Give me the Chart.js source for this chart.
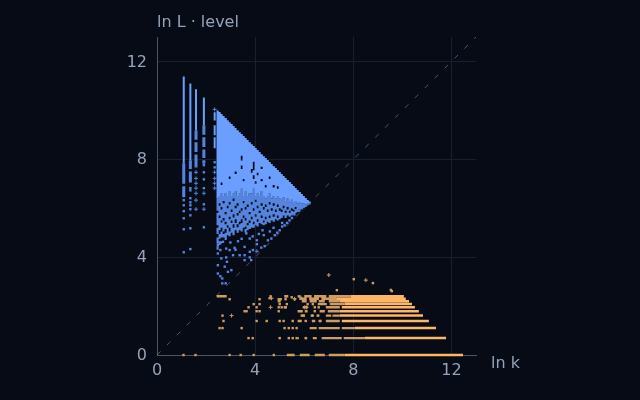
<!DOCTYPE html>
<html>
<head>
<meta charset="utf-8">
<style>html,body{margin:0;padding:0;background:#060b16}canvas{display:block}</style>
<script src="https://cdn.jsdelivr.net/npm/chart.js@4"></script>
</head>
<body>
<canvas id="c" width="640" height="400"></canvas>
<script>
const yLabel = 'ln L · level';
const xLabel = 'ln k';
const tickValues = [0, 4, 8, 12];
const diagonal = [[0, 0], [13, 13]];

// blue: vertical runs, one x per column
const coreX = [2.47,2.55,2.63,2.71,2.80,2.88,2.96,3.04,3.12,3.20,3.29,3.37,3.45,3.53,3.61,3.69,3.78,3.86,3.94,4.02,4.10,4.18,4.27,4.35,4.43,4.51,4.59,4.67,4.76,4.84,4.92,5.00,5.08,5.16,5.24,5.33,5.41,5.49,5.57,5.65,5.73,5.82,5.90,5.98,6.06,6.14,6.22];
const coreTop = [10.0,9.93,9.85,9.77,9.69,9.6,9.52,9.44,9.36,9.28,9.19,9.11,9.03,8.95,8.87,8.79,8.7,8.62,8.54,8.46,8.38,8.3,8.21,8.13,8.05,7.97,7.89,7.81,7.72,7.64,7.56,7.48,7.4,7.32,7.24,7.15,7.07,6.99,6.91,6.83,6.75,6.66,6.58,6.5,6.42,6.34,6.28];
const coreLow = [6.4,6.5,6.6,6.5,6.6,6.5,6.7,6.5,6.6,6.7,6.5,6.6,6.8,6.5,6.7,6.5,6.6,6.6,6.8,6.5,6.6,6.5,6.7,6.5,6.4,6.5,6.6,6.4,6.5,6.4,6.5,6.4,6.35,6.45,6.3,6.4,6.3,6.35,6.25,6.3,6.2,6.25,6.2,6.2,6.15,6.2,6.2];
// short breaks inside the bright runs, column by column
const coreBreakX = [2.63,2.96,3.20,3.45,3.45,3.53,3.86,3.94,3.94,4.02,4.10,4.27,4.27,4.43,4.59,4.76,4.92];
const coreBreakHigh = [7.05,7.3,7.5,8.15,7.75,7.2,7.6,7.9,7.35,7.1,7.45,7.7,7.2,6.95,7.3,6.95,6.9];
const coreBreakLow = [6.95,7.2,7.4,7.95,7.6,7.1,7.45,7.55,7.2,7.0,7.35,7.6,7.1,6.85,7.2,6.85,6.8];
const midRuns = [
[6.4,5.9,5.82,5.3,5.2,4.95,4.8,4.55,4.45,4.3],[6.5,6.2,6.1,5.7,5.6,5.1,4.95,4.75,4.65,4.5],[6.6,6.05,5.95,5.5,5.42,5.2,5.05,4.8],
[6.5,6.3,6.2,5.6,5.5,5.05,4.95,4.8],[6.6,5.85,5.75,5.45,5.35,5.15,5.0,4.7],[6.5,6.1,6.0,5.3,5.2,4.9],
[6.7,6.25,6.15,5.65,5.55,5.2,5.05,4.85],[6.5,5.95,5.85,5.5,5.4,5.0],[6.6,6.4,6.3,5.75,5.62,5.35,5.2,4.9],
[6.7,6.1,6.0,5.55,5.4,5.1],[6.5,6.2,6.1,5.8,5.7,5.35,5.22,5.0],[6.6,5.9,5.8,5.45,5.35,5.1],
[6.8,6.0,5.9,5.55,5.4,5.05],[6.5,6.3,6.2,5.7,5.6,5.2],[6.7,6.05,5.95,5.6,5.5,5.25,5.15,5.0],
[6.5,6.15,6.05,5.4,5.3,5.1],[6.6,5.85,5.75,5.5,5.4,5.15],[6.6,6.25,6.15,5.65,5.55,5.2],
[6.8,6.0,5.9,5.45,5.35,5.2],[6.5,6.35,6.25,5.75,5.65,5.3],[6.6,6.1,6.0,5.55,5.45,5.25],
[6.5,5.9,5.8,5.4],[6.7,6.2,6.1,5.7,5.6,5.35],[6.5,6.05,5.95,5.5,5.42,5.3],
[6.4,6.15,6.05,5.65,5.55,5.35],[6.5,5.95,5.85,5.45],[6.6,6.25,6.15,5.7,5.6,5.4],
[6.4,6.0,5.9,5.5],[6.5,6.2,6.1,5.75,5.65,5.45],[6.4,5.95,5.85,5.55],[6.5,6.15,6.05,5.7,5.6,5.5],
[6.4,6.0,5.9,5.55],[6.35,5.95,5.85,5.6],[6.45,6.1,6.0,5.7],[6.3,5.9,5.82,5.6],[6.4,6.05,5.95,5.7],
[6.3,5.9,5.82,5.65],[6.35,6.0,5.9,5.7],[6.25,5.95,5.87,5.75],[6.3,6.05,5.97,5.8],[6.2,5.85],
[6.25,5.95],[6.2,5.95],[6.2,6.0],[6.15,6.05],[6.2,6.12],[6.2,6.15]
];
// left stems: x, bright run
const stemX = [1.09,1.36,1.59,1.91,2.35,2.35,2.35];
const stemTop = [11.39,11.1,10.86,10.53,9.92,9.39,8.9];
const stemLow = [7.84,7.96,9.18,9.39,9.59,8.98,8.45];
const stemMidX = [1.09,1.09,1.36,1.36,1.59,1.59,1.59,1.91,1.91,1.91,1.91];
const stemMidTop = [7.84,6.9,7.96,7.5,9.18,8.7,8.2,9.39,8.9,8.4,7.96];
const stemMidLow = [7.0,6.45,7.6,7.05,8.8,8.3,7.67,9.0,8.5,8.05,7.82];
const blueDots = [[1.09,6.33],[1.09,6.12],[1.09,5.88],[1.09,5.59],[1.09,5.14],[1.09,4.2],
[1.36,6.82],[1.36,6.73],[1.36,6.41],[1.36,6.24],[1.36,6.12],[1.36,5.96],[1.36,5.71],[1.36,5.18],[1.36,4.33],
[1.91,7.76],[1.91,7.18],[1.91,6.82],[1.91,6.16],[1.91,5.22],[1.91,7.47],
[2.35,7.88],[2.35,7.67],
[2.48,4.49],[2.48,4.15],[2.48,3.67],[2.48,3.33],[2.58,4.29],[2.62,3.95],[2.69,4.63],[2.76,3.61],[2.82,4.35],[2.82,3.99],[2.85,3.81],[2.96,4.29],[3.10,4.08],[3.16,4.38],[2.89,3.40],[3.03,3.47],[2.66,2.93],[2.80,2.93],[2.58,3.22],[2.66,3.13],[3.37,4.08],[3.57,4.08],[3.57,4.42],[3.78,4.22],[3.78,3.99],[3.91,4.29],[3.84,3.88],[3.57,3.88],[4.07,4.69],[4.07,4.53],[4.25,4.39],[4.39,4.45],[4.52,4.69],[4.66,4.76],[3.78,4.76],[3.64,4.97],
[4.8,4.9],[4.9,5.0],[5.0,5.1],[5.1,5.25],[5.2,5.3],[5.3,5.4],[5.4,5.5],[5.5,5.6],[5.6,5.75],[5.8,5.9],[4.6,5.05],[4.3,5.1],[4.15,4.95],
[2.99,4.6],[3.3,4.65],[3.45,4.75],[3.9,4.85],[4.35,4.9],[4.75,5.2],[5.1,5.4],[2.6,4.6],[3.2,4.3]];
const blueCrosses = [[1.59,7.47],[1.59,7.22],[1.59,7.02],[1.59,6.82],[1.59,6.61],[1.59,6.33],[1.59,5.96],[1.91,6.61],[1.91,5.96],[2.35,10.04],[2.35,7.47],[2.35,7.22],[2.35,7.02],[2.35,6.82],[4.07,4.24]];

// orange: rows of one level each
const rowY = [0,0.69,1.10,1.39,1.61,1.79,1.95,2.08,2.20,2.30,2.40];
const rowStart = [7.65,8.47,8.06,7.53,7.45,7.45,7.53,7.65,7.45,7.3,7.90];
const rowEnd = [12.47,11.78,11.37,11.08,10.84,10.67,10.51,10.39,10.27,10.14,10.06];
const rowMid = [
[5.29,5.61,5.82,6.22,6.43,6.84,7.0,7.65],
[5.73,5.78,6.06,6.12,6.35,6.51,6.71,7.53,7.61,8.47],
[6.22,6.51,6.59,7.45,7.53,8.06],
[5.73,5.9,6.31,6.45,6.63,6.71,6.88,7.45],
[5.9,6.02,6.31,6.4,6.55,6.62,6.88,7.1,7.15,7.45],
[5.73,5.94,6.02,6.14,6.63,6.84,6.96,7.45],
[5.16,5.29,5.94,6.14,6.88,7.45],
[6.55,6.92,7.04,7.65],
[4.92,5.04,5.9,6.1,6.22,6.51,6.59,6.84,7.0,7.45],
[5.8,6.1,6.2,6.6,6.7,7.3],
[2.43,2.84,5.2,5.35,6.0,6.3,6.4,6.9,7.0,7.9]
];
const orangeDots = [[2.96,0],[3.41,0],[3.94,0],[4.76,0],[1.08,0],[1.57,0],
[3.73,0.69],[3.9,0.69],[5.0,0.69],[5.37,0.69],[5.53,0.69],[5.69,0.69],[6.06,0.69],
[2.55,1.10],[2.67,1.10],[3.45,1.10],[5.2,1.10],[5.37,1.10],[5.53,1.10],[5.69,1.10],
[2.71,1.39],[4.06,1.39],[4.47,1.39],[5.0,1.39],[5.16,1.39],[5.53,1.39],[6.06,1.39],[6.63,1.39],
[2.67,1.61],[5.9,1.61],[5.98,1.61],[6.31,1.61],[6.55,1.61],
[3.57,1.79],[3.65,1.79],[4.06,1.79],[4.18,1.79],[4.96,1.79],[6.43,1.79],
[3.73,1.95],[4.06,1.95],[4.96,1.95],[5.08,1.95],[5.24,1.95],[6.43,1.95],[6.59,1.95],
[3.94,2.08],[4.18,2.08],[5.0,2.08],[5.29,2.08],[6.14,2.08],[6.35,2.08],
[2.96,2.28],[4.18,2.28],[5.24,2.28],[5.61,2.28],[4.96,2.28],[5.04,2.28],[4.59,2.32],[4.63,2.4],[5.24,2.4],[5.49,2.36],[5.78,2.4],
[8.02,3.10],[7.33,2.65],[8.8,2.94],[9.57,2.61],[9.53,2.66]];
const orangeCrosses = [[7.0,3.27],[8.51,3.06],[3.04,1.61],[4.63,1.95],[4.67,2.32],[5.61,2.3],[6.1,1.95],[5.86,2.36],[6.5,2.36],[6.02,1.95]];

function runs(xs, tops, lows) {
  const out = [];
  xs.forEach((x, i) => out.push({x, y: tops[i]}, {x, y: lows[i]}, {x: NaN, y: NaN}));
  return out;
}
function brokenRuns(xs, tops, lows, bx, bh, bl) {
  const out = [];
  xs.forEach((x, i) => {
    let hi = tops[i];
    bx.forEach((b, j) => { if (b === x) { out.push({x, y: hi}, {x, y: bh[j]}, {x: NaN, y: NaN}); hi = bl[j]; } });
    out.push({x, y: hi}, {x, y: lows[i]}, {x: NaN, y: NaN});
  });
  return out;
}
function columnRuns(xs, lists) {
  const out = [];
  xs.forEach((x, i) => { const l = lists[i];
    for (let j = 0; j + 1 < l.length; j += 2) out.push({x, y: l[j]}, {x, y: l[j+1]}, {x: NaN, y: NaN}); });
  return out;
}
function rowRuns(ys, lists) {
  const out = [];
  ys.forEach((y, i) => { const l = lists[i];
    for (let j = 0; j + 1 < l.length; j += 2) out.push({x: l[j], y}, {x: l[j+1], y}, {x: NaN, y: NaN}); });
  return out;
}
function rows(ys, starts, ends) {
  const out = [];
  ys.forEach((y, i) => out.push({x: starts[i], y}, {x: ends[i], y}, {x: NaN, y: NaN}));
  return out;
}
const pts = a => a.map(p => ({x: p[0], y: p[1]}));
const seg = (data, color, w, order) => ({data, showLine: true, spanGaps: false, clip: false, borderColor: color, borderWidth: w, borderCapStyle: 'butt', pointRadius: 0, tension: 0, order});
const dot = (data, color, order) => ({data, showLine: false, clip: false, pointStyle: 'rect', pointRadius: 1.7, backgroundColor: color, borderWidth: 0, order});
const plus = (data, color, order) => ({data, showLine: false, clip: false, pointStyle: 'cross', pointRadius: 2, borderColor: color, borderWidth: 1, order});

const BLUE = '#6b9fff', BLUE_MID = '#5484de', ORANGE = '#ffb566', ORANGE_MID = '#cf9d60';

const labels = {
  id: 'axisLabels',
  afterDraw(ch) {
    const c = ch.ctx; c.save();
    c.font = '16px "DejaVu Sans"'; c.fillStyle = '#94a3b8'; c.textBaseline = 'alphabetic'; c.textAlign = 'left';
    c.fillText(yLabel, 157, 27);
    c.fillText(xLabel, 491, 368);
    c.restore();
  }
};

new Chart(document.getElementById('c'), {
  type: 'scatter',
  data: { datasets: [
    {data: pts(diagonal), showLine: true, borderColor: 'rgba(148,163,184,0.5)', borderWidth: 1, borderDash: [5, 9], pointRadius: 0, order: 9},
    seg(columnRuns(coreX, midRuns), BLUE_MID, 2.2, 7),
    seg(runs(stemMidX, stemMidTop, stemMidLow), BLUE_MID, 3, 7),
    seg(brokenRuns(coreX, coreTop, coreLow, coreBreakX, coreBreakHigh, coreBreakLow), BLUE, 2.2, 6),
    seg(runs(stemX, stemTop, stemLow), BLUE, 2, 6),
    dot(pts(blueDots), BLUE_MID, 5),
    plus(pts(blueCrosses), BLUE_MID, 5),
    seg(rowRuns(rowY, rowMid), ORANGE_MID, 2.4, 7),
    seg(rows(rowY, rowStart, rowEnd), ORANGE, 2.5, 6),
    dot(pts(orangeDots), ORANGE_MID, 5),
    plus(pts(orangeCrosses), ORANGE_MID, 5)
  ]},
  options: {
    responsive: false, animation: false, devicePixelRatio: 1,
    layout: {padding: {top: 37, right: 164, left: 0, bottom: 0}},
    plugins: {legend: {display: false}, tooltip: {enabled: false}},
    scales: {
      x: {type: 'linear', min: 0, max: 13,
        afterFit: s => { s.height = 45; },
        grid: {color: '#172030', drawTicks: false},
        border: {color: '#4a5568'},
        afterBuildTicks: s => { s.ticks = tickValues.map(v => ({value: v})); },
        ticks: {color: '#94a3b8', font: {family: 'DejaVu Sans', size: 16}, padding: 6, maxRotation: 0}},
      y: {type: 'linear', min: 0, max: 13,
        afterFit: s => { s.width = 157; },
        grid: {color: '#172030', drawTicks: false},
        border: {color: '#4a5568'},
        afterBuildTicks: s => { s.ticks = tickValues.map(v => ({value: v})); },
        ticks: {color: '#94a3b8', font: {family: 'DejaVu Sans', size: 16}, padding: 10, labelOffset: 1}}
    }
  },
  plugins: [labels]
});
</script>
</body>
</html>
